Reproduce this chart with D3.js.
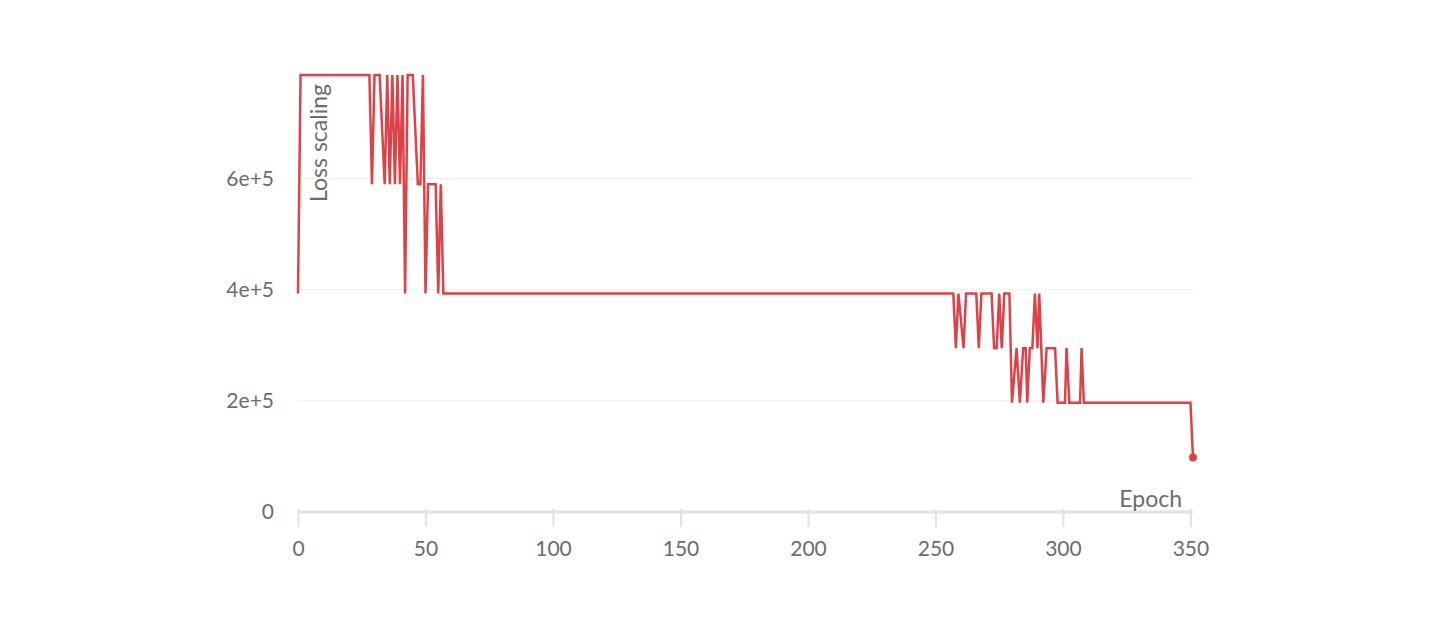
<!DOCTYPE html>
<html>
<head>
<meta charset="utf-8">
<script src="https://cdn.jsdelivr.net/npm/d3@7"></script>
<style>
  body { margin: 0; background: #fff; }
  text { font-family: Lato, "Noto Sans", sans-serif; }
</style>
</head>
<body>
<svg id="chart"></svg>
<script>
// Dimensions
const width = 1440;
const height = 630;
const margin = {top: 75, right: 247, bottom: 118, left: 298};

// Données : [epoch, loss scaling]
const epochs = [0, 1, 28, 29, 30, 32, 34, 35, 36, 37, 38, 39, 40, 41, 42, 43, 45, 47, 48, 49,
  50, 51, 54, 55, 56, 57, 257, 258, 259, 261, 262, 266, 267, 268, 272, 273, 274, 275, 276, 277,
  279, 280, 281.8, 283.1, 284.4, 285.4, 286, 287, 288, 289, 290, 290.7, 292.3, 293.6, 296.9, 297.9,
  300.8, 301.4, 302.5, 306.7, 307.3, 308.2, 350, 351];
const lossScale = [393216, 786432, 786432, 589824, 786432, 786432, 589824, 786432, 589824, 786432,
  589824, 786432, 589824, 786432, 393216, 786432, 786432, 589824, 589824, 786432,
  393216, 589824, 589824, 393216, 589824, 393216, 393216, 294912, 393216, 294912,
  393216, 393216, 294912, 393216, 393216, 294912, 294912, 393216, 294912, 393216,
  393216, 196608, 294912, 196608, 294912, 294912, 196608, 294912, 294912, 393216,
  294912, 393216, 196608, 294912, 294912, 196608, 196608, 294912, 196608, 196608,
  294912, 196608, 196608, 98304];
const xTicks = [0, 50, 100, 150, 200, 250, 300, 350];
const yTicks = [0, 200000, 400000, 600000];
const yTickLabels = ["0", "2e+5", "4e+5", "6e+5"];

const data = epochs.map((e, i) => ({epoch: e, value: lossScale[i]}));

const x = d3.scaleLinear()
    .domain([0, 351])
    .range([margin.left, width - margin.right]);

const y = d3.scaleLinear()
    .domain([0, 786432])
    .range([height - margin.bottom, margin.top]);

const svg = d3.select("#chart")
    .attr("width", width)
    .attr("height", height);

// Grille horizontale
svg.append("g")
    .selectAll("line")
    .data(yTicks.slice(1))
    .enter()
    .append("line")
    .attr("x1", x(0))
    .attr("x2", x(351))
    .attr("y1", d => y(d))
    .attr("y2", d => y(d))
    .attr("stroke", "#ededed")
    .attr("stroke-width", 1);

// Axe X
const xAxis = svg.append("g")
    .attr("transform", `translate(0,${y(0)})`)
    .call(d3.axisBottom(x).tickValues(xTicks).tickSize(15).tickPadding(14));
xAxis.select(".domain")
    .attr("stroke", "#e2e2e2")
    .attr("stroke-width", 3)
    .attr("d", `M${x(0)},0H${x(351)}`);
xAxis.selectAll(".tick line")
    .attr("stroke", "#e2e2e2")
    .attr("stroke-width", 2)
    .attr("y1", -3);
xAxis.selectAll(".tick text")
    .attr("fill", "#6b6b75")
    .style("font-size", "21px");

// Axe Y (étiquettes seulement)
const yAxis = svg.append("g")
    .attr("transform", `translate(${x(0)},0)`)
    .call(d3.axisLeft(y).tickValues(yTicks).tickFormat((d, i) => yTickLabels[i]).tickSize(0).tickPadding(24));
yAxis.select(".domain").remove();
yAxis.selectAll(".tick text")
    .attr("fill", "#6b6b75")
    .style("font-size", "21px");

// Titres des axes
svg.append("text")
    .attr("x", 1182)
    .attr("y", y(0) - 5)
    .attr("text-anchor", "end")
    .attr("fill", "#6b6b75")
    .style("font-size", "23px")
    .text("Epoch");

svg.append("text")
    .attr("transform", `translate(327,${margin.top + 9}) rotate(-90)`)
    .attr("text-anchor", "end")
    .attr("fill", "#6b6b75")
    .style("font-size", "23px")
    .text("Loss scaling");

// Courbe
const line = d3.line()
    .x(d => x(d.epoch))
    .y(d => y(d.value));

svg.append("path")
    .datum(data)
    .attr("d", line)
    .attr("fill", "none")
    .attr("stroke", "#dc4349")
    .attr("stroke-width", 2.5)
    .attr("stroke-linejoin", "miter");

// Dernier point
const last = data[data.length - 1];
svg.append("circle")
    .attr("cx", x(last.epoch))
    .attr("cy", y(last.value))
    .attr("r", 4)
    .attr("fill", "#dc4349");
</script>
</body>
</html>
